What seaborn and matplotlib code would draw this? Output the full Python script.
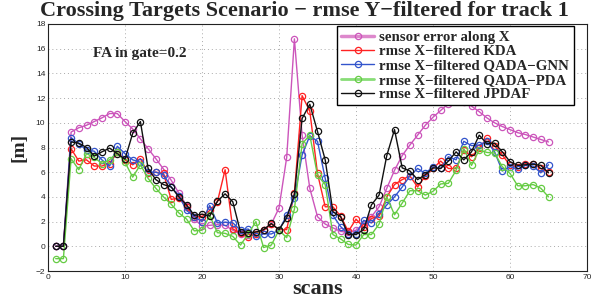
import numpy as np
import pandas as pd
import matplotlib
matplotlib.use("Agg")
import matplotlib.pyplot as plt
import seaborn as sns

scans = list(range(1, 66))

sensor = [0, 0, 9.25, 9.6, 9.8, 10.1, 10.4, 10.75, 10.75, 10.1, 9.5, 8.7, 7.9, 7.1, 6.25, 5.35,
          4.3, 3.3, 2.2, 1.65, 1.7, 1.75, 1.7, 1.3, 1.0, 0.95, 1.0, 1.3, 1.8, 3.1,
          7.2, 16.8, 9.0, 4.7, 2.4, 1.8, 1.5, 1.2, 1.15, 1.3, 1.8, 2.4, 3.2, 4.7, 6.15,
          7.35, 8.2, 9.0, 9.8, 10.45, 11.0, 11.55, 11.8, 11.7, 11.35, 10.9, 10.4, 10.0,
          9.7, 9.45, 9.2, 9.05, 8.85, 8.65, 8.45]

kda = [0, 0, 7.9, 6.9, 7.0, 6.5, 6.5, 6.7, 7.6, 7.0, 6.6, 7.1, 5.9, 6.0, 5.9, 3.8,
       3.9, 3.2, 2.4, 2.4, 2.9, 3.6, 6.2, 1.4, 1.1, 0.75, 1.0, 1.3, 1.8, 1.35,
       1.35, 4.3, 12.2, 10.95, 5.9, 3.2, 3.2, 2.45, 1.2, 2.2, 1.55, 2.25, 2.45, 4.0, 5.0,
       5.4, 5.7, 4.8, 5.7, 6.3, 6.9, 6.3, 6.3, 7.8, 7.25, 7.95, 8.75, 8.15,
       7.4, 6.55, 6.45, 6.7, 6.7, 6.3, 6.0]

gnn = [0, 0, 8.8, 8.3, 7.8, 7.7, 7.0, 6.5, 8.1, 7.5, 7.0, 6.8, 6.0, 6.0, 5.8, 4.8,
       4.1, 2.9, 2.4, 2.0, 3.3, 1.9, 1.95, 1.9, 1.3, 1.4, 0.8, 1.0, 1.0, 1.3,
       2.5, 3.9, 7.4, 8.95, 8.5, 5.5, 2.5, 1.6, 1.0, 1.0, 2.1, 1.9, 2.65, 3.35, 4.0,
       4.8, 5.7, 6.3, 5.9, 6.45, 6.3, 7.25, 7.0, 8.5, 8.15, 8.2, 8.5, 7.65,
       6.1, 6.45, 6.25, 6.55, 6.5, 5.95, 6.6]

pda = [-1, -1, 7.1, 6.2, 7.5, 7.2, 6.7, 7.0, 7.6, 6.8, 5.6, 6.6, 5.5, 4.7, 4.0, 3.4,
       2.7, 2.2, 1.25, 1.3, 2.5, 1.1, 1.05, 0.8, 0.1, 1.0, 2.0, -0.1, 0.1, 1.3,
       0.7, 3.0, 8.3, 9.0, 5.75, 5.0, 0.95, 0.6, 0.15, 0.1, 0.95, 0.95, 1.8, 4.0, 2.55,
       3.5, 4.5, 4.5, 4.15, 4.45, 5.05, 5.1, 6.15, 7.9, 6.55, 7.8, 7.6, 7.55,
       6.45, 5.9, 4.9, 4.9, 5.0, 4.7, 4.0]

jpdaf = [0, 0, 8.45, 8.35, 8.0, 7.3, 7.65, 7.95, 7.5, 7.05, 9.15, 10.1, 6.3, 5.4, 5.0, 4.8,
         4.0, 3.35, 2.5, 2.6, 2.45, 3.65, 4.25, 3.6, 1.15, 1.1, 1.15, 1.35, 1.85, 1.35,
         2.3, 4.2, 10.35, 11.5, 9.3, 7.0, 2.8, 2.4, 0.95, 0.95, 1.35, 3.35, 4.15, 7.35, 9.45,
         6.35, 6.1, 5.4, 5.8, 6.35, 6.3, 6.9, 7.65, 7.0, 7.65, 9.0, 8.3, 8.35,
         7.65, 6.85, 6.55, 6.6, 6.65, 6.55, 5.95]

labels = ["sensor error along X", "rmse X\u2212filtered KDA", "rmse X\u2212filtered QADA\u2212GNN",
          "rmse X\u2212filtered QADA\u2212PDA", "rmse X\u2212filtered JPDAF"]
series = [sensor, kda, gnn, pda, jpdaf]
colors = ["#cc55bb", "#ff2222", "#3355cc", "#66cc44", "#111111"]

sns.set_style("white")
plt.rcParams['font.family'] = ['Liberation Sans', 'DejaVu Sans']

fig = plt.figure(figsize=(5.92, 3.0), dpi=100)
ax = fig.add_axes([48/592, 1-271/300, (587-48)/592, (271-24)/300])

for vals, lab, col in zip(series, labels, colors):
    df = pd.DataFrame({"scans": scans, "value": vals})
    sns.lineplot(data=df, x="scans", y="value", ax=ax, color=col, label=lab,
                 linewidth=1.0, marker="o", markersize=4.5, markerfacecolor="none",
                 markeredgecolor=col, markeredgewidth=0.9)

ax.set_xlim(0, 70)
ax.set_ylim(-2, 18)
ax.set_xticks(range(0, 71, 10))
ax.set_yticks(range(-2, 19, 2))
ax.tick_params(labelsize=6, length=2, direction="in", pad=2)
ax.grid(True, linestyle=(0, (1, 3)), color="#aaaaaa", linewidth=0.7)
for s in ax.spines.values():
    s.set_color("#222222")
    s.set_linewidth(0.8)

serif = ['Liberation Serif', 'DejaVu Serif']
ax.set_xlabel("scans", fontsize=16, fontweight="bold", family=serif, labelpad=-1)
ax.set_ylabel("[m]", fontsize=14, fontweight="bold", family=serif, labelpad=6)
fig.text(40/592, 1 - 16/300, "Crossing Targets Scenario \u2212 rmse Y\u2212filtered for track 1",
         ha="left", va="baseline", fontsize=16, fontweight="bold", family=serif)
ax.text(5.8, 15.6, "FA in gate=0.2", fontsize=11, fontweight="bold", family=serif,
        ha="left", va="center")

leg = ax.legend(loc="upper left",
                prop={"family": serif, "weight": "bold", "size": 10.7},
                frameon=True, fancybox=False, edgecolor="black", framealpha=1,
                borderpad=0.3, labelspacing=0.06, handlelength=2.2, handletextpad=0.35,
                borderaxespad=0)
leg.set_bbox_to_anchor((337/592, 1 - 26/300), transform=fig.transFigure)
leg.get_frame().set_linewidth(1.0)
lines = leg.get_lines()
lines[0].set_linewidth(2.5)
lines[0].set_color("#dd88cc")
lines[3].set_linewidth(2.0)
lines[3].set_color("#88dd77")

fig.savefig("out.png", dpi=100)
